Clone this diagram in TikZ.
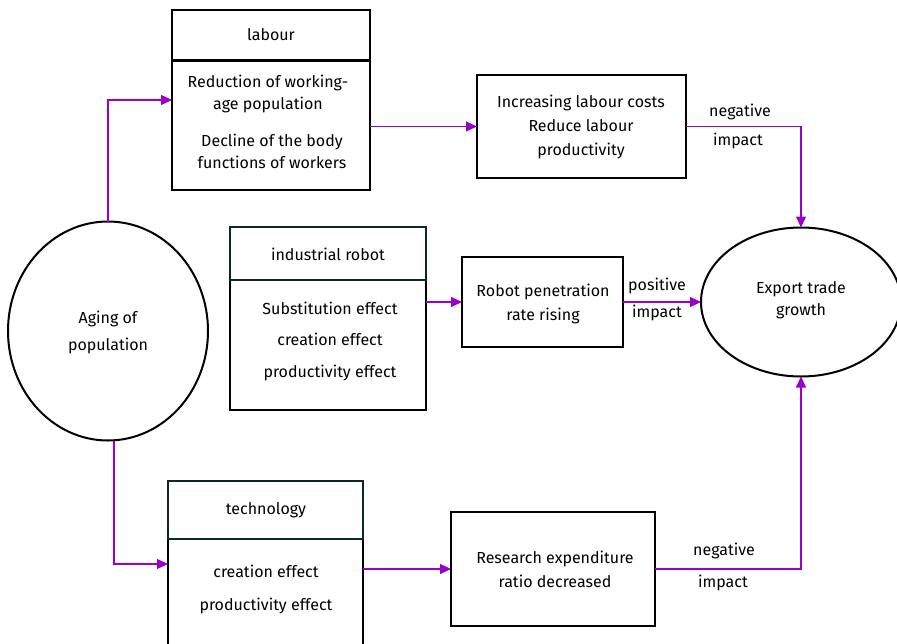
\documentclass[tikz,border=0pt]{standalone}
\usepackage{fontspec}
\setmainfont{Fira Sans}
\usetikzlibrary{shapes.geometric,arrows.meta}
\definecolor{arr}{RGB}{153,0,204}
\definecolor{navy}{RGB}{14,38,52}
\begin{document}
\begin{tikzpicture}[x=1pt,y=-1pt,
  box/.style={draw=black,line width=2.4pt,rectangle,inner sep=0pt,outer sep=0pt},
  nbox/.style={draw=navy,line width=2.4pt,rectangle,inner sep=0pt,outer sep=0pt},
  oval/.style={draw=black,line width=2pt,ellipse,inner sep=0pt,outer sep=0pt},
  txt/.style={font=\fontsize{16}{22}\selectfont,align=center,inner sep=0pt},
  conn/.style={draw=arr,line width=1.1pt,-{Triangle[length=11pt,width=10pt]}}
]
\useasboundingbox (0,0) rectangle (897,643);

% ellipses
\node[oval,minimum width=200pt,minimum height=219pt] (aging) at (108,331) {};
\node[txt,font=\fontsize{16}{27}\selectfont] (agingT) at (108,332) {Aging of\\population};
\node[oval,minimum width=200pt,minimum height=149pt] (export) at (801,302) {};
\node[txt] (exportT) at (801,300) {Export trade\\growth};

% labour box
\node[box,minimum width=198pt,minimum height=130pt] (labB) at (271,125) {};
\node[box,minimum width=198pt,minimum height=51pt] (labH) at (271,35.5) {};
\node[txt] (labHT) at (271,35) {labour};
\node[txt] (labT1) at (268,93.5) {Reduction of working-\\age population};
\node[txt] (labT2) at (272,151) {Decline of the body\\functions of workers};

% cost box
\node[box,minimum width=209pt,minimum height=103pt] (cost) at (581.5,126.5) {};
\node[txt,font=\fontsize{16}{24}\selectfont] (costT) at (581,127) {Increasing labour costs\\Reduce labour\\productivity};

% industrial robot box
\node[box,minimum width=196pt,minimum height=130pt] (robB) at (328,345) {};
\node[nbox,minimum width=196pt,minimum height=53pt] (robH) at (328,253.5) {};
\node[txt] (robHT) at (328,254) {industrial robot};
\node[txt,font=\fontsize{16}{31.5}\selectfont] (robT) at (330,341) {Substitution effect\\creation effect\\productivity effect};

% robot penetration box
\node[box,minimum width=161pt,minimum height=90pt] (pen) at (542.5,302) {};
\node[txt,font=\fontsize{16}{24}\selectfont] (penT) at (543,304) {Robot penetration\\rate rising};

% technology box
\node[box,minimum width=195pt,minimum height=141pt] (tecB) at (265.5,609.5) {};
\node[nbox,minimum width=195pt,minimum height=58pt] (tecH) at (265.5,510) {};
\node[txt] (tecHT) at (266,510) {technology};
\node[txt,font=\fontsize{16}{33}\selectfont] (tecT) at (266,589) {creation effect\\productivity effect};

% research box
\node[box,minimum width=204pt,minimum height=114pt] (res) at (553,569) {};
\node[txt,font=\fontsize{16}{24}\selectfont] (resT) at (555,569) {Research expenditure\\ratio decreased};

% labels
\node[txt] (neg1a) at (740,112) {negative};
\node[txt] (neg1b) at (738,141) {impact};
\node[txt] (posa) at (657,286) {positive};
\node[txt] (posb) at (657,313) {impact};
\node[txt] (neg2a) at (724,551) {negative};
\node[txt] (neg2b) at (723,583) {impact};

% connector anchor points
\coordinate (labIn) at (172,100);
\coordinate (tecIn) at (168,564);
\coordinate (agingBot) at (114,441);

% connectors
\draw[conn] (aging.north) |- (labIn);
\draw[conn] (labB.east |- cost.west) -- (cost.west);
\draw[conn] (cost.east) -| (export.north);
\draw[conn] (robB.east |- pen.west) -- (pen.west);
\draw[conn] (pen.east) -- (export.west);
\draw[conn] (agingBot) |- (tecIn);
\draw[conn] (tecB.east |- res.west) -- (res.west);
\draw[conn] (res.east) -| (export.south);
\end{tikzpicture}
\end{document}
